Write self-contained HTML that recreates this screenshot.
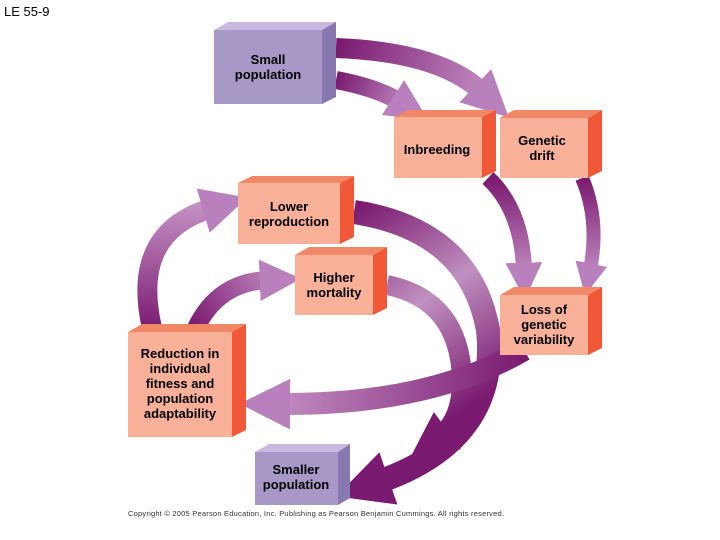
<!DOCTYPE html>
<html><head><style>
body{margin:0;background:#fff;}
svg{display:block;font-family:"Liberation Sans",Arial,sans-serif;}
</style></head><body>
<svg width="720" height="540" viewBox="0 0 720 540" xmlns="http://www.w3.org/2000/svg">
<defs>
<marker id="h" viewBox="0 0 10 10" refX="2" refY="5" markerWidth="2.3" markerHeight="2.6" orient="auto"><path d="M0,0 L10,5 L0,10 z" fill="#b880bc"/></marker>
<marker id="hd" viewBox="0 0 10 10" refX="2" refY="5" markerWidth="2.3" markerHeight="2.6" orient="auto"><path d="M0,0 L10,5 L0,10 z" fill="#7a1a70"/></marker>
<linearGradient id="g1" gradientUnits="userSpaceOnUse" x1="336" y1="50" x2="490" y2="100"><stop offset="0" stop-color="#7a1a70"/><stop offset="1" stop-color="#c490c4"/></linearGradient>
<linearGradient id="g2" gradientUnits="userSpaceOnUse" x1="336" y1="80" x2="410" y2="110"><stop offset="0" stop-color="#7a1a70"/><stop offset="1" stop-color="#c490c4"/></linearGradient>
<linearGradient id="g3" gradientUnits="userSpaceOnUse" x1="0" y1="178" x2="0" y2="280"><stop offset="0" stop-color="#7a1a70"/><stop offset="1" stop-color="#c490c4"/></linearGradient>
<linearGradient id="g5" gradientUnits="userSpaceOnUse" x1="354" y1="210" x2="480" y2="400"><stop offset="0" stop-color="#7a1a70"/><stop offset="0.5" stop-color="#c090c0"/><stop offset="1" stop-color="#7a1a70"/></linearGradient>
<linearGradient id="g6" gradientUnits="userSpaceOnUse" x1="525" y1="0" x2="270" y2="0"><stop offset="0" stop-color="#7a1a70"/><stop offset="1" stop-color="#c490c4"/></linearGradient>
<linearGradient id="g7" gradientUnits="userSpaceOnUse" x1="0" y1="330" x2="0" y2="205"><stop offset="0" stop-color="#7a1a70"/><stop offset="1" stop-color="#c490c4"/></linearGradient>
<linearGradient id="g8" gradientUnits="userSpaceOnUse" x1="195" y1="330" x2="285" y2="275"><stop offset="0" stop-color="#7a1a70"/><stop offset="1" stop-color="#c490c4"/></linearGradient>
</defs>
<text x="4" y="16" font-size="13" fill="#000">LE 55-9</text>

<g fill="none" stroke-linecap="butt">
<path d="M336,48 Q440,52 482,92" stroke="url(#g1)" stroke-width="20" marker-end="url(#h)"/>
<path d="M336,80 Q378,88 400,102" stroke="url(#g2)" stroke-width="18" marker-end="url(#h)"/>
<path d="M488,178 Q522,210 524,270" stroke="url(#g3)" stroke-width="16" marker-end="url(#h)"/>
<path d="M582,178 Q600,220 590,270" stroke="url(#g3)" stroke-width="14" marker-end="url(#h)"/>
<path d="M387,285 Q460,300 462,380 Q462,420 440,436" stroke="url(#g5)" stroke-width="20" marker-end="url(#hd)"/>
<path d="M354,212 Q470,230 488,330 Q500,440 378,482" stroke="url(#g5)" stroke-width="24" marker-end="url(#hd)"/>
<path d="M524,350 Q430,405 280,404" stroke="url(#g6)" stroke-width="22" marker-end="url(#h)"/>
<path d="M152,328 Q130,232 212,208" stroke="url(#g7)" stroke-width="20" marker-end="url(#h)"/>
<path d="M196,328 Q218,282 268,280" stroke="url(#g8)" stroke-width="18" marker-end="url(#h)"/>
</g>

<g>
<polygon points="214,30 228,22 336,22 322,30" fill="#c8b8e0"/><polygon points="322,30 336,22 336,97 322,104" fill="#8878b0"/><rect x="214" y="30" width="108" height="74" fill="#a898c8"/>
<polygon points="394,117 408,110 496,110 482,117" fill="#f08868"/><polygon points="482,117 496,110 496,171 482,178" fill="#f05838"/><rect x="394" y="117" width="88" height="61" fill="#f8b098"/>
<polygon points="500,118 514,110 602,110 588,118" fill="#f08868"/><polygon points="588,118 602,110 602,171 588,178" fill="#f05838"/><rect x="500" y="118" width="88" height="60" fill="#f8b098"/>
<polygon points="238,183 252,176 354,176 340,183" fill="#f08868"/><polygon points="340,183 354,176 354,237 340,244" fill="#f05838"/><rect x="238" y="183" width="102" height="61" fill="#f8b098"/>
<polygon points="295,255 309,247 387,247 373,255" fill="#f08868"/><polygon points="373,255 387,247 387,308 373,315" fill="#f05838"/><rect x="295" y="255" width="78" height="60" fill="#f8b098"/>
<polygon points="500,295 514,287 602,287 588,295" fill="#f08868"/><polygon points="588,295 602,287 602,348 588,355" fill="#f05838"/><rect x="500" y="295" width="88" height="60" fill="#f8b098"/>
<polygon points="128,332 142,324 246,324 232,332" fill="#f08868"/><polygon points="232,332 246,324 246,430 232,437" fill="#f05838"/><rect x="128" y="332" width="104" height="105" fill="#f8b098"/>
<polygon points="255,452 269,444 350,444 338,452" fill="#c8b8e0"/><polygon points="338,452 350,444 350,498 338,505" fill="#8878b0"/><rect x="255" y="452" width="83" height="53" fill="#a898c8"/>
</g>

<g font-size="13" font-weight="bold" fill="#000" text-anchor="middle">
<text x="268" y="64">Small</text><text x="268" y="79">population</text>
<text x="437" y="154">Inbreeding</text>
<text x="542" y="145">Genetic</text><text x="542" y="160">drift</text>
<text x="289" y="211">Lower</text><text x="289" y="226">reproduction</text>
<text x="334" y="282">Higher</text><text x="334" y="297">mortality</text>
<text x="544" y="314">Loss of</text><text x="544" y="329">genetic</text><text x="544" y="344">variability</text>
<text x="180" y="358">Reduction in</text><text x="180" y="373">individual</text><text x="180" y="388">fitness and</text><text x="180" y="403">population</text><text x="180" y="418">adaptability</text>
<text x="296" y="474">Smaller</text><text x="296" y="489">population</text>
</g>
<text x="128" y="516" font-size="7.5" fill="#333" textLength="376">Copyright © 2005 Pearson Education, Inc. Publishing as Pearson Benjamin Cummings. All rights reserved.</text>
</svg>
</body></html>
